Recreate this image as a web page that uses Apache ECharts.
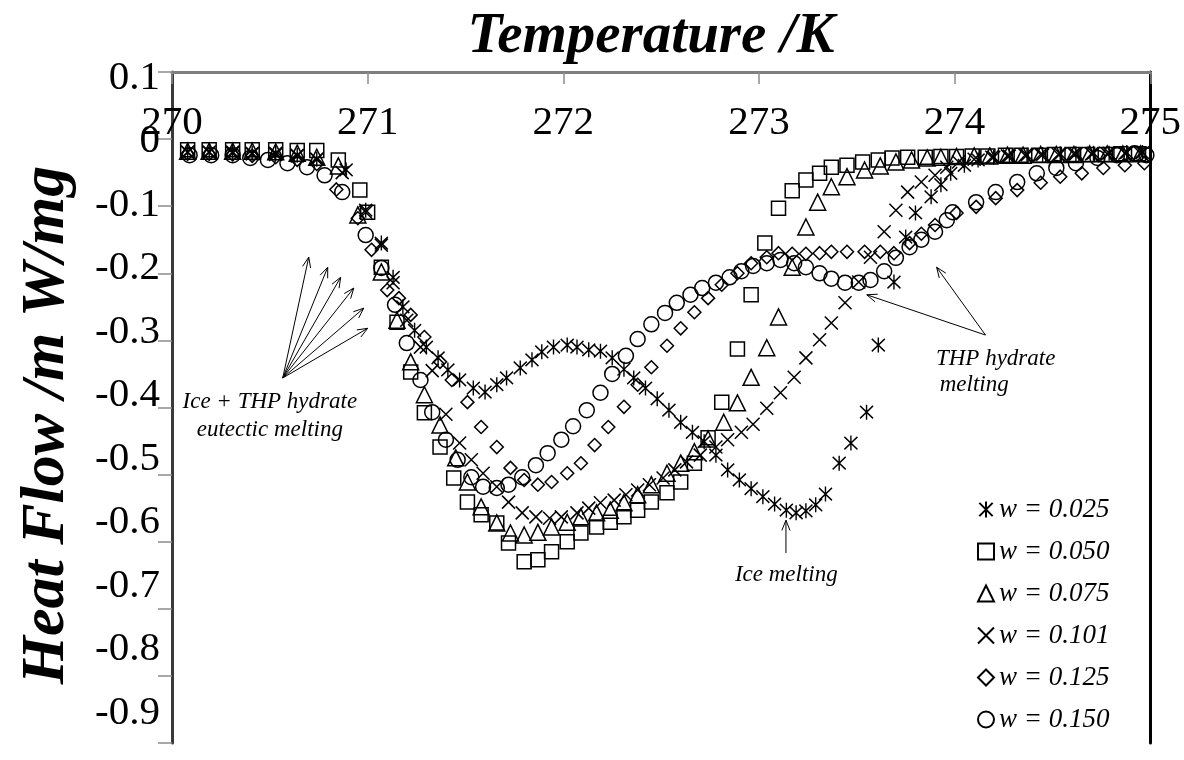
<!DOCTYPE html>
<html>
<head>
<meta charset="utf-8">
<script src="https://cdn.jsdelivr.net/npm/echarts@6/dist/echarts.min.js"></script>
<style>
  html, body { margin: 0; padding: 0; background: #ffffff; }
  #chart { width: 1184px; height: 760px; }
</style>
</head>
<body>
<div id="chart"></div>
<script>
// DSC heating curves of THP + water samples: heat flow vs temperature
const xRange = [270, 275];
const yRange = [-0.9, 0.1];
const seriesNames = ['w = 0.025', 'w = 0.050', 'w = 0.075', 'w = 0.101', 'w = 0.125', 'w = 0.150'];

const w025 = [[270.08,-0.019],[270.19,-0.019],[270.31,-0.019],[270.41,-0.021],[270.53,-0.021],[270.64,-0.024],[270.74,-0.03],[270.89,-0.046],[270.99,-0.106],[271.07,-0.155],[271.13,-0.206],[271.18,-0.25],[271.24,-0.285],[271.30,-0.31],[271.36,-0.326],[271.41,-0.344],[271.47,-0.359],[271.54,-0.371],[271.60,-0.377],[271.66,-0.366],[271.71,-0.356],[271.78,-0.341],[271.84,-0.329],[271.89,-0.317],[271.95,-0.31],[272.02,-0.307],[272.07,-0.31],[272.13,-0.314],[272.19,-0.316],[272.25,-0.326],[272.31,-0.343],[272.36,-0.356],[272.42,-0.371],[272.48,-0.387],[272.54,-0.404],[272.60,-0.422],[272.66,-0.437],[272.72,-0.451],[272.78,-0.471],[272.84,-0.493],[272.90,-0.508],[272.96,-0.521],[273.02,-0.533],[273.08,-0.544],[273.14,-0.553],[273.19,-0.557],[273.24,-0.554],[273.29,-0.545],[273.34,-0.529],[273.41,-0.483],[273.47,-0.453],[273.55,-0.407],[273.61,-0.307],[273.69,-0.213],[273.75,-0.146],[273.80,-0.11],[273.88,-0.086],[273.93,-0.068],[273.98,-0.051],[274.05,-0.039],[274.12,-0.031],[274.20,-0.027],[274.28,-0.025],[274.37,-0.024],[274.45,-0.023],[274.54,-0.022],[274.62,-0.022],[274.71,-0.021],[274.79,-0.021],[274.88,-0.02],[274.96,-0.02]];

const w050 = [[270.08,-0.016],[270.19,-0.016],[270.31,-0.016],[270.41,-0.016],[270.53,-0.016],[270.64,-0.017],[270.74,-0.017],[270.85,-0.031],[270.96,-0.076],[271.00,-0.109],[271.07,-0.191],[271.15,-0.273],[271.22,-0.347],[271.29,-0.408],[271.37,-0.459],[271.44,-0.505],[271.51,-0.541],[271.58,-0.56],[271.66,-0.572],[271.72,-0.602],[271.80,-0.63],[271.87,-0.627],[271.94,-0.615],[272.02,-0.60],[272.09,-0.587],[272.17,-0.578],[272.24,-0.571],[272.31,-0.563],[272.38,-0.553],[272.45,-0.541],[272.53,-0.527],[272.60,-0.511],[272.67,-0.483],[272.74,-0.445],[272.81,-0.392],[272.89,-0.313],[272.96,-0.232],[273.03,-0.155],[273.10,-0.103],[273.17,-0.077],[273.24,-0.061],[273.31,-0.051],[273.37,-0.042],[273.45,-0.039],[273.53,-0.034],[273.61,-0.031],[273.68,-0.028],[273.76,-0.027],[273.85,-0.027],[273.93,-0.026],[274.01,-0.026],[274.09,-0.025],[274.17,-0.025],[274.26,-0.024],[274.34,-0.024],[274.43,-0.024],[274.51,-0.023],[274.60,-0.023],[274.68,-0.023],[274.77,-0.023],[274.85,-0.022],[274.94,-0.022]];

const w075 = [[270.08,-0.018],[270.19,-0.018],[270.31,-0.018],[270.41,-0.018],[270.53,-0.019],[270.64,-0.021],[270.74,-0.027],[270.85,-0.04],[270.95,-0.113],[271.07,-0.198],[271.15,-0.27],[271.22,-0.332],[271.29,-0.381],[271.37,-0.426],[271.45,-0.475],[271.51,-0.511],[271.58,-0.548],[271.66,-0.572],[271.73,-0.587],[271.80,-0.59],[271.87,-0.586],[271.94,-0.578],[272.02,-0.571],[272.09,-0.563],[272.17,-0.557],[272.24,-0.553],[272.31,-0.542],[272.38,-0.53],[272.45,-0.515],[272.53,-0.498],[272.60,-0.483],[272.67,-0.466],[272.74,-0.447],[272.82,-0.422],[272.89,-0.393],[272.96,-0.355],[273.04,-0.311],[273.10,-0.265],[273.17,-0.191],[273.24,-0.131],[273.30,-0.094],[273.37,-0.071],[273.45,-0.056],[273.54,-0.046],[273.62,-0.04],[273.70,-0.034],[273.78,-0.031],[273.86,-0.028],[273.93,-0.027],[274.01,-0.026],[274.10,-0.025],[274.18,-0.025],[274.27,-0.024],[274.35,-0.024],[274.44,-0.023],[274.52,-0.023],[274.61,-0.023],[274.69,-0.022],[274.78,-0.022],[274.86,-0.022],[274.95,-0.022]];

const w101 = [[270.08,-0.02],[270.19,-0.02],[270.31,-0.021],[270.41,-0.022],[270.53,-0.023],[270.64,-0.025],[270.74,-0.03],[270.87,-0.05],[270.99,-0.109],[271.07,-0.158],[271.13,-0.214],[271.20,-0.27],[271.27,-0.31],[271.33,-0.345],[271.40,-0.41],[271.47,-0.453],[271.53,-0.478],[271.59,-0.498],[271.66,-0.518],[271.72,-0.541],[271.79,-0.557],[271.86,-0.563],[271.93,-0.565],[271.99,-0.563],[272.07,-0.557],[272.13,-0.55],[272.19,-0.542],[272.26,-0.538],[272.32,-0.53],[272.38,-0.523],[272.44,-0.515],[272.51,-0.505],[272.57,-0.493],[272.63,-0.481],[272.70,-0.471],[272.78,-0.459],[272.84,-0.448],[272.91,-0.437],[272.97,-0.425],[273.04,-0.401],[273.11,-0.378],[273.18,-0.355],[273.24,-0.326],[273.31,-0.299],[273.37,-0.274],[273.44,-0.244],[273.51,-0.213],[273.57,-0.176],[273.64,-0.138],[273.70,-0.106],[273.76,-0.079],[273.83,-0.064],[273.90,-0.054],[273.96,-0.042],[274.02,-0.034],[274.10,-0.03],[274.19,-0.027],[274.27,-0.025],[274.36,-0.024],[274.44,-0.023],[274.53,-0.023],[274.61,-0.022],[274.70,-0.022],[274.78,-0.022],[274.87,-0.021],[274.95,-0.021]];

const w125 = [[270.08,-0.022],[270.19,-0.022],[270.31,-0.023],[270.41,-0.025],[270.53,-0.027],[270.64,-0.031],[270.74,-0.037],[270.84,-0.075],[270.95,-0.118],[271.02,-0.165],[271.10,-0.225],[271.16,-0.237],[271.22,-0.262],[271.29,-0.295],[271.37,-0.332],[271.43,-0.359],[271.51,-0.392],[271.58,-0.429],[271.66,-0.459],[271.73,-0.49],[271.80,-0.508],[271.87,-0.515],[271.94,-0.511],[272.02,-0.498],[272.09,-0.483],[272.16,-0.456],[272.23,-0.429],[272.31,-0.399],[272.38,-0.366],[272.45,-0.34],[272.53,-0.308],[272.60,-0.282],[272.67,-0.258],[272.74,-0.237],[272.81,-0.217],[272.89,-0.20],[272.96,-0.185],[273.04,-0.176],[273.10,-0.17],[273.17,-0.171],[273.24,-0.171],[273.31,-0.17],[273.37,-0.168],[273.45,-0.168],[273.54,-0.168],[273.62,-0.168],[273.69,-0.17],[273.77,-0.155],[273.83,-0.141],[273.90,-0.128],[274.01,-0.11],[274.11,-0.101],[274.21,-0.088],[274.32,-0.076],[274.44,-0.065],[274.54,-0.056],[274.65,-0.051],[274.76,-0.043],[274.87,-0.039],[274.97,-0.036]];

const w150 = [[270.09,-0.024],[270.20,-0.024],[270.31,-0.024],[270.40,-0.028],[270.49,-0.031],[270.59,-0.036],[270.69,-0.042],[270.78,-0.054],[270.87,-0.079],[270.99,-0.143],[271.07,-0.192],[271.14,-0.247],[271.20,-0.304],[271.27,-0.359],[271.33,-0.407],[271.40,-0.448],[271.46,-0.478],[271.53,-0.504],[271.59,-0.518],[271.66,-0.52],[271.72,-0.515],[271.79,-0.504],[271.86,-0.486],[271.92,-0.468],[271.99,-0.448],[272.05,-0.428],[272.12,-0.404],[272.19,-0.378],[272.25,-0.35],[272.32,-0.323],[272.38,-0.298],[272.45,-0.276],[272.52,-0.259],[272.58,-0.244],[272.65,-0.232],[272.71,-0.222],[272.78,-0.214],[272.85,-0.206],[272.91,-0.197],[272.97,-0.189],[273.04,-0.185],[273.11,-0.18],[273.18,-0.185],[273.24,-0.191],[273.31,-0.20],[273.37,-0.208],[273.44,-0.214],[273.51,-0.214],[273.57,-0.21],[273.64,-0.197],[273.70,-0.177],[273.77,-0.161],[273.83,-0.15],[273.90,-0.138],[273.96,-0.121],[273.99,-0.109],[274.11,-0.094],[274.21,-0.079],[274.32,-0.064],[274.42,-0.051],[274.52,-0.043],[274.62,-0.036],[274.73,-0.028],[274.83,-0.024],[274.92,-0.021],[274.98,-0.024]];

// annotation arrows (tail -> head) and notes, in data coordinates
const eutecticArrows = [
  [[270.566,-0.356],[270.699,-0.176]],
  [[270.566,-0.356],[270.796,-0.191]],
  [[270.566,-0.356],[270.862,-0.206]],
  [[270.566,-0.356],[270.929,-0.222]],
  [[270.566,-0.356],[270.980,-0.252]],
  [[270.566,-0.356],[271.000,-0.282]]
];
const iceArrows = [[[273.138,-0.617],[273.138,-0.568]]];
const hydrateArrows = [
  [[274.158,-0.292],[273.551,-0.232]],
  [[274.158,-0.292],[273.908,-0.191]]
];
const notes = [
  { text: 'Ice + THP hydrate', at: [270.50, -0.392] },
  { text: 'eutectic melting', at: [270.50, -0.434] },
  { text: 'Ice melting', at: [273.14, -0.650] },
  { text: 'THP hydrate', at: [274.21, -0.327] },
  { text: 'melting', at: [274.10, -0.367] }
];

const SERIF = '"Liberation Serif", "Times New Roman", serif';
const markers = [
  'path://M0,1L10,11M10,1L0,11M5,0L5,12',
  'rect',
  'triangle',
  'path://M0,0L10,10M10,0L0,10',
  'diamond',
  'circle'
];
const markerSizes = [[13, 15], 14, 16, 13, 13, 15];
const seriesData = [w025, w050, w075, w101, w125, w150];

const chart = echarts.init(document.getElementById('chart'), null, { renderer: 'canvas' });

const option = {
  backgroundColor: '#ffffff',
  animation: false,
  title: {
    text: 'Temperature /K',
    left: 646,
    top: 4,
    textAlign: 'center',
    textStyle: { fontFamily: SERIF, fontSize: 57, fontWeight: 'bold', fontStyle: 'italic', color: '#000' }
  },
  grid: [
    { left: 172, right: 32, top: 72, bottom: 17 },
    { left: 172, right: 32, top: 78, bottom: 47, show: false }
  ],
  xAxis: [
    {
      type: 'value', gridIndex: 0, position: 'top',
      min: xRange[0], max: xRange[1], interval: 1,
      axisLine: { show: true, onZero: false, lineStyle: { color: '#7f7f7f', width: 3 } },
      axisTick: { show: true, inside: true, length: 12, lineStyle: { color: '#8c8c8c', width: 1.5 } },
      axisLabel: { show: true, inside: true, margin: 51, verticalAlign: 'middle',
                   fontFamily: SERIF, fontSize: 41, color: '#000' },
      splitLine: { show: false }
    },
    { type: 'value', gridIndex: 1, show: false, min: xRange[0], max: xRange[1] }
  ],
  yAxis: [
    {
      type: 'value', gridIndex: 0, position: 'left',
      min: yRange[0], max: yRange[1], interval: 0.1,
      axisLine: { show: true, onZero: false, lineStyle: { color: '#3a3a3a', width: 3 } },
      axisTick: { show: true, length: 14, lineStyle: { color: '#8c8c8c', width: 1.5 } },
      axisLabel: { show: false },
      splitLine: { show: false }
    },
    {
      type: 'value', gridIndex: 0, position: 'right',
      min: yRange[0], max: yRange[1], interval: 0.1,
      axisLine: { show: true, onZero: false, lineStyle: { color: '#000', width: 3 } },
      axisTick: { show: false }, axisLabel: { show: false }, splitLine: { show: false }
    },
    {
      type: 'value', gridIndex: 1, position: 'left',
      min: yRange[0], max: yRange[1], interval: 0.1,
      axisLine: { show: false }, axisTick: { show: false }, splitLine: { show: false },
      axisLabel: { show: true, margin: 12, fontFamily: SERIF, fontSize: 41, color: '#000' }
    }
  ],
  legend: {
    orient: 'vertical',
    left: 972, top: 489,
    itemWidth: 16, itemHeight: 16, itemGap: 11,
    textStyle: { fontFamily: SERIF, fontSize: 27, fontStyle: 'italic', color: '#000', lineHeight: 31 },
    data: seriesNames.map((n, i) => ({ name: n, icon: markers[i] }))
  },
  series: seriesNames.map((n, i) => ({
    name: n,
    type: 'scatter',
    xAxisIndex: 0, yAxisIndex: 0,
    symbol: markers[i],
    symbolSize: markerSizes[i],
    itemStyle: { color: 'rgba(0,0,0,0)', borderColor: '#000', borderWidth: 1.5, opacity: 1 },
    emphasis: { disabled: true },
    data: seriesData[i]
  }))
};
chart.setOption(option);

// arrows and notes placed through the plot's own coordinate system
function toPx(p) { return chart.convertToPixel({ gridIndex: 0 }, p); }
function arrowShapes(pair) {
  const a = toPx(pair[0]), b = toPx(pair[1]);
  const ang = Math.atan2(b[1] - a[1], b[0] - a[0]);
  const L = 11, spread = 0.38;
  const h1 = [b[0] - L * Math.cos(ang - spread), b[1] - L * Math.sin(ang - spread)];
  const h2 = [b[0] - L * Math.cos(ang + spread), b[1] - L * Math.sin(ang + spread)];
  return [
    { type: 'line', shape: { x1: a[0], y1: a[1], x2: b[0], y2: b[1] }, style: { stroke: '#000', lineWidth: 1 } },
    { type: 'polyline', shape: { points: [h1, b, h2] }, style: { stroke: '#000', fill: null, lineWidth: 1 } }
  ];
}
const graphics = [];
eutecticArrows.concat(iceArrows, hydrateArrows).forEach(p => graphics.push(...arrowShapes(p)));
notes.forEach(nt => {
  const p = toPx(nt.at);
  graphics.push({
    type: 'text', x: p[0], y: p[1],
    style: { text: nt.text, fill: '#000', font: 'italic 23px ' + SERIF,
             align: 'center', verticalAlign: 'middle', textAlign: 'center', textVerticalAlign: 'middle' }
  });
});
graphics.push({
  type: 'text', x: 47, y: 425, rotation: Math.PI / 2,
  style: { text: 'Heat Flow /m W/mg', fill: '#000', font: 'italic bold 62px ' + SERIF,
           align: 'center', verticalAlign: 'middle', textAlign: 'center', textVerticalAlign: 'middle' }
});
chart.setOption({ graphic: graphics });
</script>
</body>
</html>
